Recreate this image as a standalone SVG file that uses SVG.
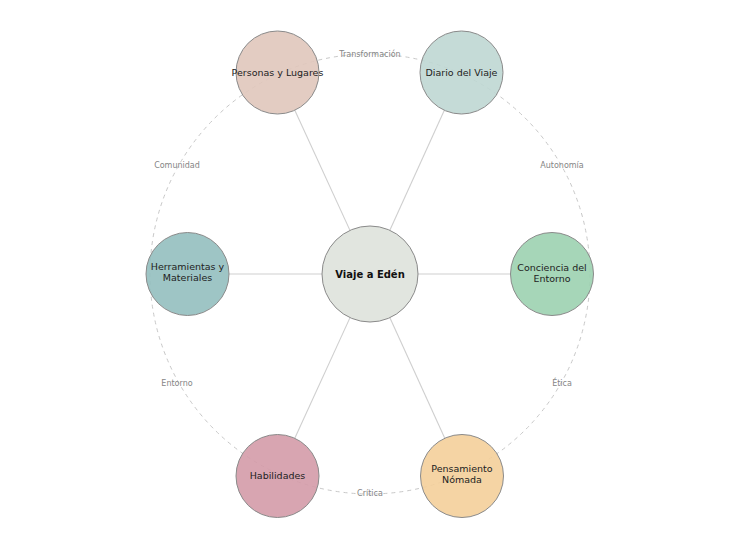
<svg xmlns="http://www.w3.org/2000/svg" width="740" height="555" viewBox="0 0 740 555">
<style>
.spoke{stroke:#cfcfcf;stroke-width:1.1;fill:none}
.ring{stroke:#c8c8c8;stroke-width:1;stroke-dasharray:4 4;fill:none}
.node{stroke:#8a8a8a;stroke-width:1;fill-opacity:0.9}
.nt{font-family:"DejaVu Sans",sans-serif;font-size:9.5px;fill:#222;text-anchor:middle}
.ct{font-family:"DejaVu Sans",sans-serif;font-size:10px;font-weight:bold;fill:#111;text-anchor:middle}
.lt{font-family:"DejaVu Sans",sans-serif;font-size:8px;fill:#858585;text-anchor:middle}
</style>
<rect width="740" height="555" fill="#ffffff"/>
<g id="connectors">
<circle class="ring" cx="370" cy="274" r="220"/>
<line class="spoke" x1="349.97" y1="230.37" x2="294.81" y2="110.22"/>
<line class="spoke" x1="389.85" y1="230.3" x2="444.34" y2="110.29"/>
<line class="spoke" x1="322" y1="274" x2="229" y2="274"/>
<line class="spoke" x1="418" y1="274" x2="510" y2="274"/>
<line class="spoke" x1="350.02" y1="317.64" x2="294.78" y2="438.27"/>
<line class="spoke" x1="389.9" y1="317.68" x2="444.8" y2="438.23"/>
<text class="lt" x="370" y="57.2">Transformación</text>
<text class="lt" x="562" y="167.9">Autonomía</text>
<text class="lt" x="562" y="386.2">Ética</text>
<text class="lt" x="370" y="496.2">Crítica</text>
<text class="lt" x="177" y="386.2">Entorno</text>
<text class="lt" x="177" y="167.9">Comunidad</text>
</g>
<g id="center">
<circle class="node" cx="370" cy="274" r="48" fill="#dee2db"/>
<text class="ct" x="370" y="277.6">Viaje a Edén</text>
</g>
<g id="personas">
<circle class="node" cx="277.5" cy="72.5" r="41.5" fill="#e0c7bb"/>
<text class="nt" x="277.5" y="75.9">Personas y Lugares</text>
</g>
<g id="diario">
<circle class="node" cx="461.5" cy="72.5" r="41.5" fill="#bfd7d3"/>
<text class="nt" x="461.5" y="75.9">Diario del Viaje</text>
</g>
<g id="herramientas">
<circle class="node" cx="187.5" cy="274" r="41.5" fill="#93bfbf"/>
<text class="nt" x="187.5" y="270.4">Herramientas y</text>
<text class="nt" x="187.5" y="281.4">Materiales</text>
</g>
<g id="conciencia">
<circle class="node" cx="552" cy="274" r="41.5" fill="#9cd1b0"/>
<text class="nt" x="552" y="270.6">Conciencia del</text>
<text class="nt" x="552" y="281.6">Entorno</text>
</g>
<g id="habilidades">
<circle class="node" cx="277.5" cy="476" r="41.5" fill="#d49ba9"/>
<text class="nt" x="277.5" y="479.4">Habilidades</text>
</g>
<g id="pensamiento">
<circle class="node" cx="462" cy="476" r="41.5" fill="#f4cf9a"/>
<text class="nt" x="462" y="471.6">Pensamiento</text>
<text class="nt" x="462" y="482.6">Nómada</text>
</g>
</svg>
